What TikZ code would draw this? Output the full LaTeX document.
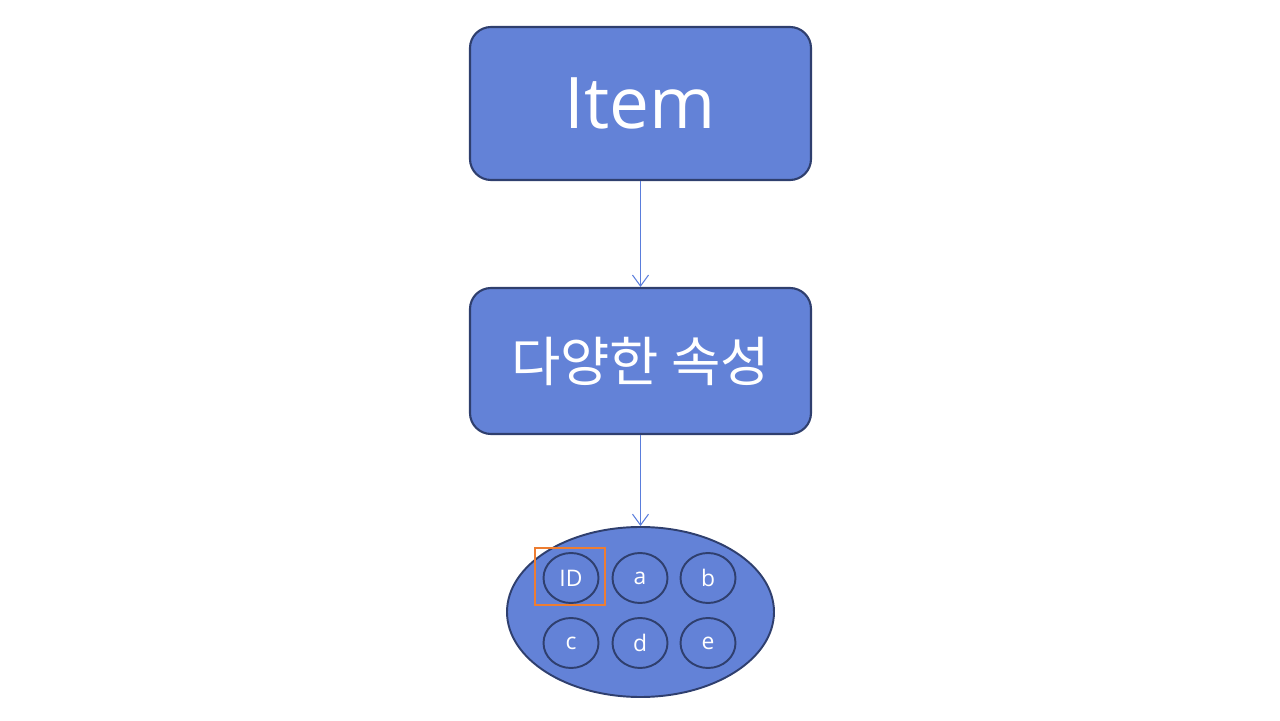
\documentclass[tikz,border=0pt]{standalone}
\usepackage{fontspec}
\setmainfont{Open Sans}
\newfontfamily\krfont{Noto Sans CJK KR}
\usepackage{tikz}
\usetikzlibrary{shapes.geometric, arrows.meta, positioning}
\definecolor{boxblue}{RGB}{99, 130, 215}
\definecolor{edgenavy}{RGB}{47, 63, 110}
\definecolor{linkblue}{RGB}{90, 125, 220}
\definecolor{markorange}{RGB}{237, 125, 49}

\begin{document}
\begin{tikzpicture}[
  bigbox/.style={draw=edgenavy, line width=1.2pt, fill=boxblue, rounded corners=0.42cm,
    minimum width=6.82cm, text=white, inner sep=0},
  attrdot/.style={ellipse, draw=edgenavy, line width=1.1pt, fill=boxblue, text=white,
    minimum width=1.1cm, minimum height=1.0cm, inner sep=0, font=\fontsize{13}{15}\selectfont},
  link/.style={-{Straight Barb[length=2.2mm, width=3.2mm]}, linkblue, line width=0.6pt}
]
  \useasboundingbox (0,0) rectangle (25.6,14.4);

  \node[bigbox, minimum height=3.06cm, font=\fontsize{40.5}{46}\selectfont] (itembox) at (12.81,12.33) {Item};
  \node[bigbox, minimum height=2.92cm, font=\krfont\fontsize{30.5}{34}\selectfont] (attrbox) at (12.81,7.18) {다양한 속성};
  \node[ellipse, draw=edgenavy, line width=1.1pt, fill=boxblue,
        minimum width=5.34cm, minimum height=3.4cm] (attrset) at (12.81,2.16) {};

  \foreach \n/\x/\y/\t in {id/11.42/2.84/ID, a/12.80/2.84/a, b/14.16/2.84/b,
                           c/11.42/1.54/c, d/12.80/1.54/d, e/14.16/1.54/e} {
    \node[attrdot] (dot\n) at (\x,\y) {\t};
  }
  \node[draw=markorange, line width=1.2pt, minimum width=1.4cm, minimum height=1.14cm,
        inner sep=0] (idmark) at (11.40,2.87) {};

  \draw[link] (itembox) -- (attrbox);
  \draw[link] (attrbox) -- (attrset);
\end{tikzpicture}
\end{document}
